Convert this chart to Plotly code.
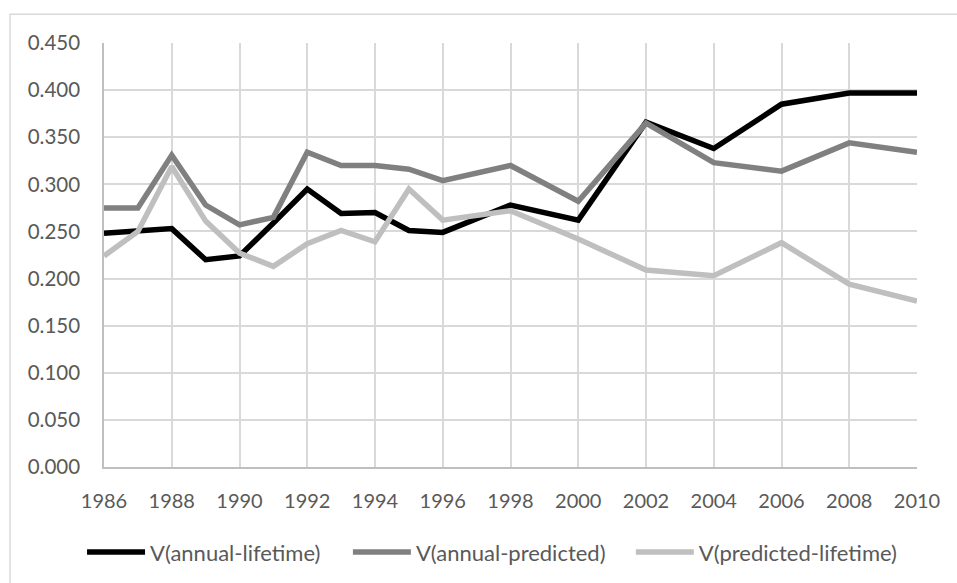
import plotly.graph_objects as go

years = [1986, 1987, 1988, 1989, 1990, 1991, 1992, 1993, 1994, 1995, 1996,
         1998, 2000, 2002, 2004, 2006, 2008, 2010]

annual_lifetime = [0.248, 0.250, 0.253, 0.220, 0.224, 0.259, 0.295, 0.269, 0.270, 0.251, 0.249,
                   0.278, 0.262, 0.366, 0.338, 0.385, 0.397, 0.397]
annual_predicted = [0.275, 0.275, 0.331, 0.278, 0.257, 0.265, 0.334, 0.320, 0.320, 0.316, 0.304,
                    0.320, 0.282, 0.365, 0.323, 0.314, 0.344, 0.334]
predicted_lifetime = [0.224, 0.250, 0.319, 0.261, 0.227, 0.213, 0.237, 0.251, 0.239, 0.295, 0.262,
                      0.272, 0.242, 0.209, 0.203, 0.238, 0.194, 0.176]

series_names = ["V(annual-lifetime)", "V(annual-predicted)", "V(predicted-lifetime)"]
series_values = [annual_lifetime, annual_predicted, predicted_lifetime]
series_colors = ["#000000", "#808080", "#bfbfbf"]
legend_ids = ["legend", "legend2", "legend3"]
legend_x = [-0.027, 0.300, 0.648]

FONT = "Lato, 'Open Sans', sans-serif"
TXT = "#595959"

fig = go.Figure()
for name, vals, col, lid in zip(series_names, series_values, series_colors, legend_ids):
    fig.add_trace(go.Scatter(
        x=years, y=vals, name=name, mode="lines",
        line=dict(color=col, width=5.5),
        legend=lid,
    ))

def leg(x):
    return dict(
        orientation="h", x=x, xanchor="left", y=-0.201, yanchor="middle",
        font=dict(family=FONT, size=22, color=TXT),
        itemwidth=58, bgcolor="rgba(0,0,0,0)", borderwidth=0,
    )

fig.update_layout(
    width=957, height=620,
    margin=dict(l=104, r=40, t=43, b=153),
    paper_bgcolor="white", plot_bgcolor="white",
    font=dict(family=FONT, size=20, color=TXT),
    showlegend=True,
    legend=leg(legend_x[0]),
    legend2=leg(legend_x[1]),
    legend3=leg(legend_x[2]),
    xaxis=dict(
        range=[1986, 2010], tick0=1986, dtick=2, tickmode="linear",
        showgrid=True, gridcolor="#d9d9d9", gridwidth=1.5,
        showline=True, linecolor="#bfbfbf", linewidth=1.5,
        zeroline=False, ticks="", ticklabelstandoff=15,
        tickfont=dict(family=FONT, size=20, color=TXT),
    ),
    yaxis=dict(
        range=[0, 0.45], tick0=0, dtick=0.05, tickmode="linear", tickformat=".3f",
        showgrid=True, gridcolor="#d9d9d9", gridwidth=1.5,
        showline=True, linecolor="#bfbfbf", linewidth=1.5,
        zeroline=False, ticks="", ticklabelstandoff=18,
        tickfont=dict(family=FONT, size=20.5, color=TXT),
    ),
    shapes=[dict(
        type="rect", xref="paper", yref="paper",
        x0=-0.1156, x1=1.2, y0=-0.45, y1=1.068,
        line=dict(color="#d9d9d9", width=1.5), fillcolor="rgba(0,0,0,0)", layer="below",
    )],
)

fig.write_html(
    "out.html",
    config={"displayModeBar": False},
    post_script=(
        "document.documentElement.style.margin='0';"
        "document.body.style.margin='0';"
        "document.documentElement.style.overflow='hidden';"
        "document.body.style.overflow='hidden';"
    ),
)
